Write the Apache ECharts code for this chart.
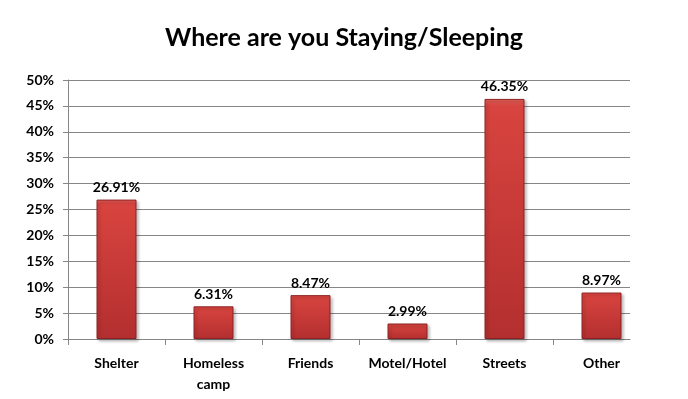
<!DOCTYPE html>
<html>
<head>
<meta charset="utf-8">
<title>Where are you Staying/Sleeping</title>
<script src="https://cdn.jsdelivr.net/npm/echarts@6/dist/echarts.min.js"></script>
<style>
  html, body { margin: 0; padding: 0; background: #ffffff; }
  #chart { width: 688px; height: 399px; }
</style>
</head>
<body>
<div id="chart"></div>
<script>
// data
var categories = ['Shelter', 'Homeless\ncamp', 'Friends', 'Motel/Hotel', 'Streets', 'Other'];
var percents = [26.91, 6.31, 8.47, 2.99, 46.35, 8.97];
var yTicks = [0, 5, 10, 15, 20, 25, 30, 35, 40, 45, 50];
var boundaryTicks = [0, 1, 2, 3, 4, 5];

var font = 'Lato, "Open Sans", sans-serif';
var chart = echarts.init(document.getElementById('chart'));

// bars sit on 97px wide slots, while the gridlines stop a little earlier (630px)
var slot = 582 / categories.length;
var lineMax = 562 / slot;

var option = {
  animation: false,
  title: {
    text: 'Where are you Staying/Sleeping',
    left: 'center',
    top: 20,
    textStyle: { fontFamily: font, fontSize: 25, fontWeight: 'bold', color: '#000' }
  },
  // grid 0 holds the bars, grid 1 the visible axes and gridlines
  grid: [
    { left: 68, right: 38, top: 80, bottom: 60 },
    { left: 68, right: 58, top: 80, bottom: 60 }
  ],
  xAxis: [{
    type: 'category',
    gridIndex: 0,
    data: categories,
    axisLine: { show: false },
    axisTick: { show: false },
    axisLabel: {
      interval: 0, hideOverlap: false,
      margin: 14, color: '#000', fontFamily: font, fontSize: 14, fontWeight: 'bold',
      lineHeight: 21
    }
  }, {
    type: 'value',
    gridIndex: 1,
    min: 0, max: lineMax,
    axisLine: { show: true, lineStyle: { color: '#868686', width: 1 } },
    axisTick: { show: true, length: 6, customValues: boundaryTicks, lineStyle: { color: '#868686' } },
    axisLabel: { show: false },
    splitLine: { show: false }
  }],
  yAxis: [{
    type: 'value',
    gridIndex: 0,
    min: 0, max: 50, interval: 5,
    show: false
  }, {
    type: 'value',
    gridIndex: 1,
    min: yTicks[0], max: yTicks[yTicks.length - 1], interval: 5,
    axisLine: { show: true, lineStyle: { color: '#868686' } },
    axisTick: { show: true, length: 5, lineStyle: { color: '#868686' } },
    axisLabel: {
      margin: 14, color: '#000', fontFamily: font, fontSize: 14, fontWeight: 'bold',
      formatter: '{value}%'
    },
    splitLine: { show: true, lineStyle: { color: '#868686', width: 1 } }
  }],
  series: [{
    type: 'bar',
    xAxisIndex: 0,
    yAxisIndex: 0,
    data: percents,
    barWidth: 40,
    itemStyle: {
      color: new echarts.graphic.LinearGradient(0, 0, 0, 1, [
        { offset: 0, color: '#e0605a' },
        { offset: 0.03, color: '#d8443f' },
        { offset: 1, color: '#b32f2f' }
      ]),
      borderColor: '#8e2222',
      borderWidth: 1,
      shadowColor: 'rgba(0,0,0,0.25)',
      shadowBlur: 3,
      shadowOffsetX: 2,
      shadowOffsetY: 2
    },
    label: {
      show: true,
      position: 'top',
      distance: 5,
      color: '#000',
      fontFamily: font,
      fontSize: 14,
      fontWeight: 'bold',
      formatter: function (p) { return p.value.toFixed(2) + '%'; }
    }
  }]
};
chart.setOption(option);
</script>
</body>
</html>
